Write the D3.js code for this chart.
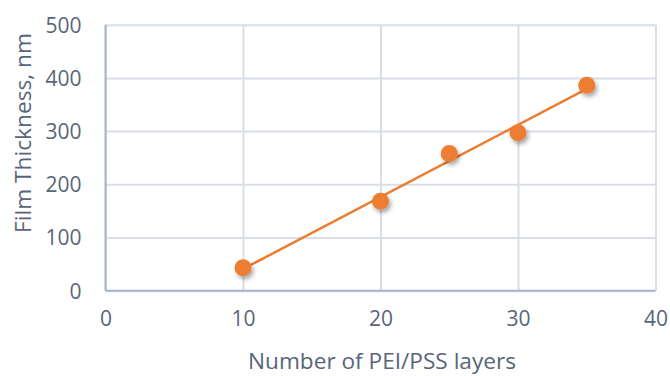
<!DOCTYPE html>
<html><head><meta charset="utf-8">
<script src="https://cdn.jsdelivr.net/npm/d3@7"></script>
<style>html,body{margin:0;padding:0;background:#fff;}svg{display:block;}</style>
</head><body>
<svg id="c" width="670" height="376"></svg>
<script>
const layers = [10, 20, 25, 30, 35];
const thickness = [43, 168, 258, 297, 386];
const xTicks = [0, 10, 20, 30, 40];
const yTicks = [0, 100, 200, 300, 400, 500];
const xTitle = "Number of PEI/PSS layers";
const yTitle = "Film Thickness, nm";

const W = 670, H = 376;
const m = {left: 105.5, right: 670 - 655.5, top: 24.7, bottom: 376 - 290.7};
const svg = d3.select("#c");
const font = "'Open Sans', sans-serif";
const textCol = "#596579";
const gridCol = "#D9DEE7";
const axisCol = "#A9B4C6";
const orange = "#ED7D31";

const x = d3.scaleLinear().domain([0, 40]).range([m.left, W - m.right]);
const y = d3.scaleLinear().domain([0, 500]).range([H - m.bottom, m.top]);

const defs = svg.append("defs");
const f = defs.append("filter").attr("id", "sh").attr("x", "-50%").attr("y", "-50%").attr("width", "200%").attr("height", "200%");
f.append("feDropShadow").attr("dx", 2).attr("dy", 3).attr("stdDeviation", 2).attr("flood-color", "#000").attr("flood-opacity", 0.35);

// gridlines
const gy = svg.append("g").attr("transform", `translate(${m.left},0)`)
  .call(d3.axisLeft(y).tickValues(yTicks).tickSize(-(W - m.left - m.right)).tickFormat(""));
gy.select(".domain").remove();
gy.selectAll("line").attr("stroke", gridCol).attr("stroke-width", 2);
const gx = svg.append("g").attr("transform", `translate(0,${H - m.bottom})`)
  .call(d3.axisBottom(x).tickValues(xTicks).tickSize(-(H - m.top - m.bottom)).tickFormat(""));
gx.select(".domain").remove();
gx.selectAll("line").attr("stroke", gridCol).attr("stroke-width", 2);

// axis lines
svg.append("line").attr("x1", x(0)).attr("x2", x(0)).attr("y1", y(500)).attr("y2", y(0))
  .attr("stroke", axisCol).attr("stroke-width", 2);
svg.append("line").attr("x1", x(0)).attr("x2", x(40)).attr("y1", y(0)).attr("y2", y(0))
  .attr("stroke", axisCol).attr("stroke-width", 2);

// tick labels
const ay = svg.append("g").attr("transform", `translate(${x(0) - 24},0)`)
  .call(d3.axisLeft(y).tickValues(yTicks).tickSize(0).tickFormat(d3.format("d")));
ay.select(".domain").remove();
ay.selectAll("text").attr("font-family", font).attr("font-size", 21).attr("fill", textCol)
  .attr("x", 0).attr("dy", "0.35em");
const ax = svg.append("g").attr("transform", `translate(0,${y(0) + 20})`)
  .call(d3.axisBottom(x).tickValues(xTicks).tickSize(0).tickFormat(d3.format("d")));
ax.select(".domain").remove();
ax.selectAll("text").attr("font-family", font).attr("font-size", 21).attr("fill", textCol)
  .attr("y", 0).attr("dy", "0.71em");

// axis titles
function fitText(sel, target) {
  const len = sel.node().getComputedTextLength();
  const fs = parseFloat(sel.attr("font-size"));
  sel.attr("font-size", fs * target / len);
}
const xt = svg.append("text").attr("x", 382).attr("y", 369).attr("text-anchor", "middle")
  .attr("font-family", font).attr("font-size", 20).attr("fill", textCol).text(xTitle);
fitText(xt, 268);
const yt = svg.append("text").attr("transform", "translate(31,133) rotate(-90)").attr("text-anchor", "middle")
  .attr("font-family", font).attr("font-size", 20).attr("fill", textCol).text(yTitle);
fitText(yt, 200);

// linear trendline
const mx = d3.mean(layers), my = d3.mean(thickness);
const sxy = d3.sum(layers, (v, i) => (v - mx) * (thickness[i] - my));
const sxx = d3.sum(layers, v => (v - mx) * (v - mx));
const slope = sxy / sxx, icpt = my - slope * mx;
const ext = d3.extent(layers);
svg.append("path")
  .datum(ext.map(v => [v, icpt + slope * v]))
  .attr("d", d3.line().x(d => x(d[0])).y(d => y(d[1])))
  .attr("stroke", orange).attr("stroke-width", 2.5).attr("fill", "none");

// markers
svg.append("g").selectAll("circle").data(layers).join("circle")
  .attr("cx", d => x(d)).attr("cy", (d, i) => y(thickness[i])).attr("r", 8.5)
  .attr("fill", orange).attr("filter", "url(#sh)");
</script>
</body></html>
